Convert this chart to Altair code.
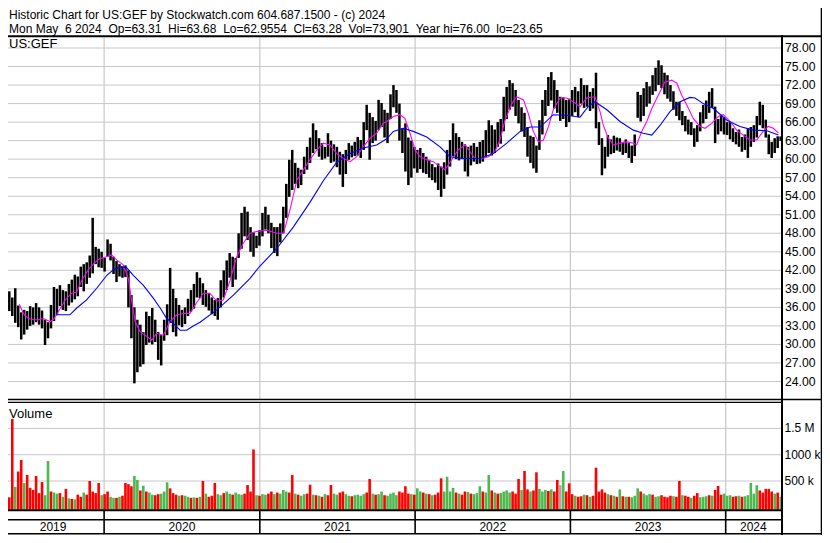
import altair as alt
import pandas as pd

# ---------------- data ----------------
START = "2019-05-06"   # first week shown
END = "2024-05-10"     # right edge of the plot

# weekly high / low of the price bars (US$)
hi = [
    39.3, 39.0, 38.6, 37.6, 39.1, 36.3, 35.2, 35.6, 35.4, 36.2,
    36.0, 36.7, 36.0, 35.5, 34.0, 33.6, 36.4, 39.3, 39.0, 39.6,
    38.8, 38.6, 39.8, 40.5, 41.3, 41.0, 42.6, 43.0, 43.3, 44.4,
    50.5, 45.8, 45.5, 45.0, 44.0, 47.0, 46.3, 44.2, 43.5, 43.0,
    42.6, 42.8, 42.0, 38.0, 36.0, 34.0, 33.2, 32.0, 35.3, 34.6,
    35.9, 34.0, 32.0, 31.5, 34.0, 36.5, 42.4, 39.0, 37.5, 36.4,
    35.6, 36.0, 37.4, 38.8, 39.8, 41.7, 40.8, 39.9, 38.8, 38.3,
    37.6, 37.2, 37.5, 40.4, 42.0, 43.6, 44.8, 44.2, 44.0, 48.0,
    51.3, 52.3, 51.5, 49.0, 48.2, 47.6, 48.5, 51.3, 52.3, 51.0,
    49.7, 49.0, 49.0, 49.6, 52.3, 56.0, 59.9, 61.5, 59.4, 58.6,
    58.3, 60.4, 62.0, 63.5, 65.8, 64.7, 63.4, 62.6, 62.0, 64.2,
    63.0, 62.4, 62.0, 61.2, 60.8, 61.5, 62.6, 62.2, 62.8, 63.6,
    63.1, 66.0, 68.8, 67.5, 66.8, 66.2, 69.6, 69.1, 68.0, 67.5,
    70.5, 72.0, 71.2, 69.0, 65.0, 65.8, 63.5, 63.0, 62.0, 61.5,
    61.8, 61.0, 60.4, 59.9, 59.2, 58.7, 59.3, 58.8, 59.5, 61.5,
    63.1, 65.8, 64.2, 63.6, 62.8, 62.4, 62.0, 62.2, 62.6, 62.0,
    62.8, 63.1, 64.7, 66.3, 65.5, 64.8, 66.0, 66.5, 70.1, 71.7,
    72.8, 72.3, 71.2, 69.6, 68.4, 67.5, 65.2, 63.8, 63.6, 62.2,
    66.3, 69.6, 71.2, 73.3, 74.1, 72.8, 71.2, 70.1, 70.0, 69.6,
    69.8, 71.2, 71.7, 71.0, 73.1, 72.0, 72.0, 70.9, 71.5, 74.0,
    66.0, 63.4, 62.0, 63.9, 63.2, 63.8, 63.5, 63.4, 62.8, 63.2,
    62.6, 62.2, 64.0, 70.9, 70.4, 71.5, 72.5, 71.8, 73.6, 74.8,
    76.0, 75.2, 74.0, 73.6, 72.0, 71.0, 69.3, 69.3, 67.8, 67.0,
    66.4, 66.0, 65.0, 65.5, 67.6, 68.8, 69.5, 70.9, 71.5, 68.5,
    66.5, 67.2, 66.8, 66.0, 66.0, 65.0, 64.4, 64.8, 63.6, 64.0,
    65.0, 65.2, 65.5, 67.0, 69.3, 68.8, 66.4, 64.0, 62.8, 63.4,
    63.7, 63.68,
]
lo = [
    37.0, 36.3, 35.4, 34.6, 33.5, 32.8, 30.8, 31.6, 32.4, 33.0,
    33.2, 33.6, 33.2, 32.6, 29.9, 31.0, 32.6, 33.8, 34.8, 36.2,
    35.6, 35.4, 36.3, 36.8, 37.3, 37.8, 39.3, 38.6, 39.8, 40.8,
    41.5, 43.0, 42.5, 42.4, 41.8, 44.2, 43.6, 41.4, 40.1, 41.0,
    40.8, 40.9, 36.0, 31.0, 23.7, 25.5, 26.4, 26.8, 29.9, 30.3,
    30.0, 30.4, 27.5, 26.6, 30.6, 31.5, 33.5, 32.0, 31.3, 33.1,
    32.8, 33.3, 34.6, 35.3, 35.8, 37.6, 37.5, 36.4, 36.1, 35.5,
    34.9, 34.6, 34.0, 36.0, 37.6, 38.8, 40.8, 39.3, 40.5, 44.0,
    45.5, 47.5, 46.9, 45.0, 44.2, 45.6, 46.0, 47.5, 48.6, 48.0,
    45.6, 44.8, 44.3, 46.5, 48.0, 50.5, 53.9, 55.0, 56.0, 55.3,
    55.8, 57.6, 58.3, 59.4, 61.0, 61.6, 60.4, 59.9, 60.1, 60.4,
    59.4, 59.6, 58.7, 57.5, 55.5, 57.6, 59.9, 60.3, 60.5, 60.6,
    60.2, 61.5, 64.7, 59.9, 62.6, 63.0, 64.7, 65.2, 63.5, 62.6,
    66.5, 68.4, 67.5, 63.0, 61.0, 58.0, 55.8, 57.0, 58.5, 57.8,
    58.4, 57.8, 57.6, 57.0, 56.6, 56.2, 55.0, 53.9, 55.2, 57.5,
    58.8, 60.5, 60.0, 59.8, 60.0, 58.0, 57.2, 59.0, 59.6, 59.2,
    59.3, 59.6, 60.4, 61.0, 60.6, 61.0, 62.0, 62.5, 64.5, 66.5,
    68.0, 68.5, 67.0, 65.8, 64.5, 63.6, 60.4, 59.4, 58.5, 57.8,
    61.5, 64.0, 67.0, 68.6, 69.5, 68.2, 67.5, 66.2, 66.5, 65.2,
    66.0, 67.0, 67.6, 66.8, 69.0, 68.3, 68.5, 67.8, 68.2, 65.0,
    62.3, 57.4, 58.5, 60.4, 60.8, 61.0, 61.4, 61.2, 60.7, 61.0,
    60.2, 59.4, 60.5, 66.7, 66.1, 67.0, 68.5, 69.0, 70.4, 71.0,
    72.0, 71.5, 70.5, 69.8, 69.3, 68.0, 67.0, 66.3, 65.5, 64.5,
    64.0, 63.9, 62.0, 62.8, 64.5, 65.8, 66.5, 67.5, 68.3, 62.6,
    64.0, 64.5, 64.0, 63.9, 63.2, 62.8, 62.4, 62.0, 61.2, 61.5,
    60.2, 62.0, 62.8, 63.5, 65.5, 65.0, 63.5, 60.8, 60.2, 61.0,
    61.8, 62.96,
]
# weekly volume (thousands of shares) and bar colour: r = down, g = up, n = unchanged
vol_k = [
    150, 180, 190, 1680, 390, 680, 900, 460, 614, 370,
    330, 595, 270, 480, 230, 880, 300, 280, 260, 270,
    200, 350, 170, 160, 150, 240, 200, 280, 240, 500,
    300, 270, 462, 230, 250, 300, 200, 180, 180, 200,
    220, 462, 440, 400, 595, 520, 320, 410, 300, 280,
    240, 230, 250, 260, 300, 475, 360, 270, 240, 220,
    230, 220, 200, 180, 190, 180, 200, 500, 260, 200,
    220, 462, 250, 230, 270, 300, 260, 240, 280, 250,
    240, 260, 424, 300, 1100, 230, 220, 250, 240, 260,
    300, 250, 280, 260, 330, 300, 280, 614, 260, 240,
    220, 250, 260, 430, 240, 230, 220, 200, 250, 230,
    424, 260, 240, 280, 300, 250, 220, 210, 230, 240,
    220, 250, 280, 538, 260, 240, 250, 300, 230, 220,
    260, 280, 230, 300, 280, 400, 260, 250, 240, 361,
    300, 280, 260, 250, 230, 240, 280, 551, 300, 582,
    300, 370, 280, 260, 240, 300, 290, 260, 250, 270,
    400, 300, 280, 614, 320, 280, 260, 270, 300, 320,
    280, 300, 260, 538, 330, 690, 340, 300, 320, 665,
    350, 300, 330, 310, 340, 300, 520, 420, 690, 300,
    456, 250, 220, 200, 210, 240, 230, 200, 220, 753,
    300, 340, 280, 250, 230, 220, 200, 340, 210, 200,
    200, 190, 220, 360, 300, 260, 230, 250, 240, 200,
    210, 230, 200, 190, 220, 210, 200, 500, 230, 220,
    200, 180, 220, 270, 190, 200, 210, 230, 220, 330,
    405, 240, 260, 220, 230, 200, 210, 220, 200, 210,
    230, 462, 260, 420, 320, 280, 350, 350, 300, 260, 280, 200,
]
vol_dir = (
    "rrrrgrrgrr" "rrrrggrggr" "grgrgrrgrr" "rrrgrrggrg" "rrrrggrgrg"
    "grrgggrrrg" "rggrgrgrgr" "rrggrggrgg" "grrrrgrggr" "rgrgggrrgr"
    "ggrrgrgrgr" "rggrrggrgg" "ggrrgrggrg" "gggrrrrgrg" "grgrgrrrgg"
    "ggrgrrgrgg" "grggrgrggg" "grrrgrrgrr" "gggrgrrngr" "rrgrrgrgrr"
    "rrrgrgrgrg" "rgggrgggrg" "grrrrgrrgr" "rgrrgggrgr" "rrgggrrgrg"
    "ggggrrrrrgrg"
)
# short moving average (magenta): week number, price
fast_w = [5.8, 7.2, 8.8, 10.5, 12.2, 13.9, 16.1, 17.2, 18.9, 21.2,
          23.4, 25.1, 26.8, 29.0, 31.2, 32.9, 35.2, 36.8, 38.5, 40.7,
          42.4, 43.6, 44.7, 46.3, 48.6, 50.3, 51.9, 54.2, 56.4, 58.7,
          60.9, 63.1, 65.4, 67.6, 69.8, 72.1, 74.3, 76.6, 78.8, 81.0,
          83.3, 85.5, 88.9, 92.2, 94.5, 96.7, 99.0, 101.2, 103.4, 105.7,
          107.9, 110.1, 112.4, 114.6, 116.9, 119.1, 121.3, 123.6, 125.8, 128.0,
          129.2, 131.4, 133.6, 135.3, 137.0, 138.7, 140.4, 142.6, 144.8, 147.1,
          148.8, 151.0, 153.2, 155.5, 157.2, 158.8, 161.1, 163.3, 165.5, 167.2,
          168.9, 171.2, 172.8, 175.1, 176.7, 178.4, 180.1, 181.8, 183.5, 185.1,
          187.4, 189.6, 191.8, 194.1, 196.3, 199.1, 200.8, 201.9, 203.6, 205.3,
          207.5, 209.8, 212.0, 213.1, 214.8, 216.5, 218.2, 220.4, 222.6, 224.9,
          226.6, 228.2, 229.9, 232.1, 234.4, 236.1, 238.3, 240.5, 242.2, 244.5,
          246.7, 248.9, 251.2, 253.4, 255.6, 257.3, 259.0, 260.7]
fast_v = [36.5, 35.0, 34.2, 34.0, 34.0, 34.2, 33.7, 34.0, 35.3, 37.2,
          38.3, 38.5, 40.4, 42.1, 43.3, 43.9, 44.2, 44.5, 43.7, 42.9,
          40.7, 36.9, 33.7, 32.1, 31.3, 30.7, 31.8, 31.5, 33.7, 34.8,
          35.0, 35.0, 36.8, 38.3, 38.3, 37.0, 37.2, 40.4, 44.2, 46.4,
          48.0, 48.3, 48.5, 48.0, 48.0, 51.8, 56.6, 58.3, 59.9, 61.5,
          62.6, 62.3, 60.9, 60.1, 59.6, 60.4, 62.0, 63.4, 64.2, 65.8,
          66.1, 66.9, 67.2, 66.6, 64.2, 61.5, 60.4, 59.9, 59.6, 58.8,
          58.3, 59.9, 61.5, 62.3, 61.2, 60.1, 60.1, 60.4, 61.2, 63.1,
          66.3, 69.0, 70.1, 69.6, 67.4, 64.5, 62.8, 63.1, 65.3, 68.0,
          69.9, 69.9, 69.3, 68.5, 69.9, 70.1, 67.7, 65.5, 63.4, 62.3,
          62.6, 62.8, 62.6, 62.3, 64.5, 66.1, 68.2, 70.4, 72.5, 72.8,
          72.3, 70.4, 68.8, 66.6, 65.3, 65.0, 65.8, 66.9, 67.2, 66.1,
          64.7, 63.9, 63.1, 63.1, 64.5, 65.3, 65.0, 64.2]
# long moving average (blue): week number, price
slow_w = [18.1, 22.8, 25.1, 28.4, 31.8, 35.2, 37.4, 40.2, 41.9, 44.1,
          47.4, 50.8, 53.1, 55.3, 57.5, 59.8, 62.0, 64.2, 66.5, 72.1,
          77.7, 83.3, 86.6, 92.2, 97.8, 103.4, 107.9, 112.4, 116.9, 121.3,
          125.8, 129.2, 131.4, 134.8, 138.1, 142.6, 147.1, 150.4, 154.9, 160.5,
          165.0, 169.5, 174.0, 177.3, 180.7, 185.1, 189.6, 194.1, 196.8, 199.1,
          203.1, 207.5, 212.0, 215.3, 218.2, 221.0, 224.3, 227.7, 231.0, 232.7,
          235.5, 238.9, 243.4, 247.8, 252.3, 256.8, 260.7]
slow_v = [34.8, 34.8, 35.9, 37.2, 39.1, 41.2, 42.1, 42.6, 42.4, 41.2,
          39.6, 37.5, 35.9, 34.2, 33.4, 32.3, 32.3, 33.0, 33.6, 35.6,
          38.0, 40.7, 42.7, 45.5, 49.0, 53.0, 56.5, 59.5, 60.9, 61.8,
          62.3, 63.3, 64.5, 65.0, 64.5, 63.6, 62.0, 60.4, 60.1, 60.1,
          60.9, 62.6, 64.5, 65.2, 65.2, 67.2, 67.1, 66.8, 68.5, 69.3,
          68.0, 66.1, 64.7, 64.2, 63.9, 65.5, 67.7, 69.3, 70.0, 69.9,
          69.0, 68.2, 66.3, 65.3, 64.7, 64.6, 63.9]

price_ticks = [24, 27, 30, 33, 36, 39, 42, 45, 48, 51, 54, 57, 60, 63, 66, 69, 72, 75, 78]
vol_ticks = [500000, 1000000, 1500000]
vol_tick_labels = ["500 k", "1000 k", "1.5 M"]
year_starts = ["2020-01-01", "2021-01-01", "2022-01-01", "2023-01-01", "2024-01-01"]
year_names = ["2019", "2020", "2021", "2022", "2023", "2024"]
title1 = "Historic Chart for US:GEF by Stockwatch.com 604.687.1500 - (c) 2024"
title2 = "Mon May  6 2024  Op=63.31  Hi=63.68  Lo=62.9554  Cl=63.28  Vol=73,901  Year hi=76.00  lo=23.65"
symbol = "US:GEF"
vol_title = "Volume"

assert len(hi) == len(lo) == len(vol_k) == len(vol_dir)
assert len(fast_w) == len(fast_v) and len(slow_w) == len(slow_v)

# ---------------- tables ----------------
start = pd.Timestamp(START)
span_w = (pd.Timestamp(END) - start).days / 7.0
n = len(hi)
bars = pd.DataFrame({
    "w": [i + 0.45 for i in range(n)],
    "hi": hi, "lo": lo,
    "vol": [v * 1000 for v in vol_k],
    "dir": list(vol_dir),
})
bounds = [(pd.Timestamp(d) - start).days / 7.0 for d in year_starts]
edges = [0.0] + bounds + [span_w]
years = pd.DataFrame({"w": [(edges[k] + edges[k + 1]) / 2 for k in range(len(year_names))],
                      "t": year_names})
ylines = pd.DataFrame({"w": bounds})
fast = pd.DataFrame({"w": fast_w, "v": fast_v})
slow = pd.DataFrame({"w": slow_w, "v": slow_v})
pt = pd.DataFrame({"p": price_ticks, "t": [f"{p:.2f}" for p in price_ticks]})
vt = pd.DataFrame({"v": vol_ticks, "t": vol_tick_labels})
ONE = pd.DataFrame({"k": [0]})

# ---------------- styling ----------------
FONT = "Liberation Sans"
GRID = "#c8c8c8"
RED, GREEN, GRAY = "#ff0000", "#4db84d", "#a8a8a8"

XS = alt.Scale(domain=[0, span_w], range=[2, 781], nice=False, zero=False)
YP = alt.Scale(domain=[24, 78], range=[381.5, 48], nice=False, zero=False)
YV = alt.Scale(domain=[0, 1500000], range=[507.3, 428.4], nice=False, zero=False)
X = alt.X("w:Q", scale=XS, axis=None)


def hline(y, x1, x2, w=1.0, color="black"):
    return alt.Chart(ONE).mark_rule(color=color, strokeWidth=w).encode(
        x=alt.value(x1), x2=alt.value(x2), y=alt.value(y))


def vline(x, y1, y2, w=1.0, color="black"):
    return alt.Chart(ONE).mark_rule(color=color, strokeWidth=w).encode(
        x=alt.value(x), y=alt.value(y1), y2=alt.value(y2))


def label(txt, x, y, size):
    return alt.Chart(ONE).mark_text(text=txt, align="left", baseline="middle", font=FONT,
                                    fontSize=size, color="black").encode(
        x=alt.value(x), y=alt.value(y))


price_grid = alt.Chart(pt).mark_rule(color=GRID, strokeWidth=1).encode(
    y=alt.Y("p:Q", scale=YP, axis=None), x=alt.value(2), x2=alt.value(781))
vol_grid = alt.Chart(vt).mark_rule(color=GRID, strokeWidth=1).encode(
    y=alt.Y("v:Q", scale=YV, axis=None), x=alt.value(2), x2=alt.value(781))
ygrid_p = alt.Chart(ylines).mark_rule(color=GRID, strokeWidth=1.2).encode(
    x=X, y=alt.value(37.5), y2=alt.value(399))
ygrid_v = alt.Chart(ylines).mark_rule(color=GRID, strokeWidth=1.2).encode(
    x=X, y=alt.value(403), y2=alt.value(509))
ygrid_s = alt.Chart(ylines).mark_rule(color="black", strokeWidth=1.6).encode(
    x=X, y=alt.value(510), y2=alt.value(534))

vol_bars = alt.Chart(bars).mark_rule(strokeWidth=2.6).encode(
    x=X,
    y=alt.Y("vol:Q", scale=YV, axis=None),
    y2=alt.datum(-42000),
    color=alt.Color("dir:N", scale=alt.Scale(domain=["r", "g", "n"], range=[RED, GREEN, GRAY]),
                    legend=None),
)
price_bars = alt.Chart(bars).mark_rule(color="black", strokeWidth=2.5).encode(
    x=X, y=alt.Y("lo:Q", scale=YP, axis=None), y2="hi:Q")
fast_line = alt.Chart(fast).mark_line(color="#ff00ff", strokeWidth=1.1).encode(
    x=X, y=alt.Y("v:Q", scale=YP, axis=None))
slow_line = alt.Chart(slow).mark_line(color="#0000ff", strokeWidth=1.1).encode(
    x=X, y=alt.Y("v:Q", scale=YP, axis=None))

price_labels = alt.Chart(pt).mark_text(align="left", baseline="middle", font=FONT,
                                       fontSize=12.2, color="black").encode(
    y=alt.Y("p:Q", scale=YP, axis=None), x=alt.value(785), text="t:N")
vol_labels = alt.Chart(vt).mark_text(align="left", baseline="middle", font=FONT,
                                     fontSize=12, color="black").encode(
    y=alt.Y("v:Q", scale=YV, axis=None), x=alt.value(784.5), text="t:N")
year_labels = alt.Chart(years).mark_text(align="center", baseline="middle", font=FONT,
                                         fontSize=12, color="black").encode(
    x=X, y=alt.value(526.8), text="t:N")

layers = [
    price_grid, vol_grid, ygrid_p, ygrid_v,
    vol_bars, price_bars, fast_line, slow_line,
    hline(36.3, 0, 822, 2), vline(782, 35, 535, 2),
    hline(399.5, 0, 822, 1.4), hline(402.3, 0, 782, 1.2),
    hline(510.2, 0, 782, 2), hline(519.8, 0, 782, 1.6), hline(533.8, 0, 822, 1.6),
    vline(821.4, 0, 535, 1.4), ygrid_s,
    label(title1.replace(" ", "\u00a0"), 9, 15.4, 12),
    label(title2.replace(" ", "\u00a0"), 9, 28.8, 12),
    label(symbol, 9, 44, 13), label(vol_title, 9, 413.5, 13),
    price_labels, vol_labels, year_labels,
]

# the page has an 8px margin: a -8 padding puts chart coordinates on page pixels,
# and 822x535 keeps the whole page inside the 830x543 window
chart = alt.layer(*layers).resolve_scale(y="independent").properties(
    width=822, height=535,
    padding={"left": -8, "top": -8, "right": 0, "bottom": 0},
    autosize=alt.AutoSizeParams(type="none"),
    background="white",
).configure_view(stroke=None)

chart.save("out.html", embed_options={"renderer": "svg", "actions": False})
